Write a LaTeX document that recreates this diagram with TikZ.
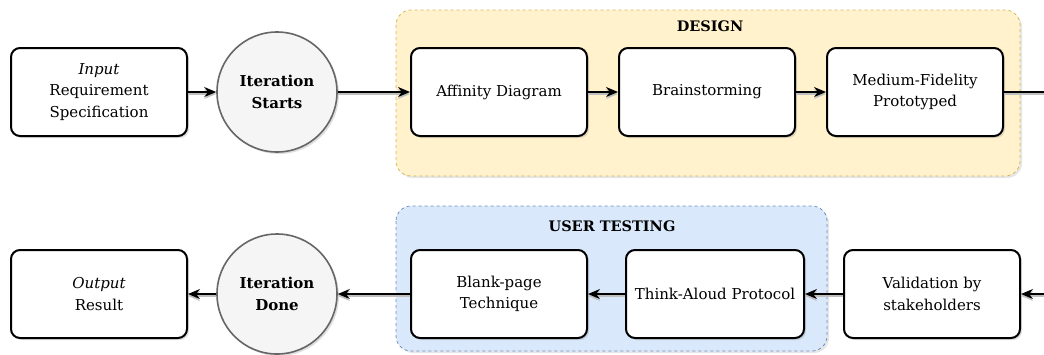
\documentclass[tikz,border=0pt]{standalone}
\usepackage{fontspec}
\setmainfont{DejaVu Serif}
\usetikzlibrary{arrows.meta,shadows}
\definecolor{designfill}{HTML}{FFF2CC}
\definecolor{designline}{HTML}{D6B656}
\definecolor{testfill}{HTML}{DAE8FC}
\definecolor{testline}{HTML}{6C8EBF}
\definecolor{circfill}{HTML}{F5F5F5}
\definecolor{circline}{HTML}{666666}
\tikzset{
  txt/.style={font=\fontsize{15}{21.5}\selectfont, align=center},
  stepbox/.style={txt, draw=black, fill=white, line width=2pt, rounded corners=9pt,
    minimum width=176pt, minimum height=88pt, inner xsep=2pt,
    drop shadow={opacity=0.25, shadow xshift=2pt, shadow yshift=-2pt}},
  milestone/.style={circle, align=center, draw=circline, fill=circfill, line width=1.6pt,
    minimum size=120pt, inner sep=0pt, font=\fontsize{15}{22}\selectfont\bfseries,
    drop shadow={opacity=0.25, shadow xshift=2pt, shadow yshift=-2pt}},
  phase/.style={dashed, line width=0.8pt, rounded corners=15pt,
    drop shadow={opacity=0.2, shadow xshift=2pt, shadow yshift=-2pt}},
  phasetitle/.style={font=\fontsize{14.5}{16}\selectfont\bfseries},
  flow/.style={line width=1.4pt, -{Stealth[length=12pt,width=10pt]},
    preaction={draw=black!25, line width=1.4pt, transform canvas={yshift=-2pt}}},
  flowplain/.style={line width=1.4pt,
    preaction={draw=black!25, line width=1.4pt, transform canvas={yshift=-2pt}}},
}
\begin{document}
\begin{tikzpicture}[x=1pt,y=-1pt]
\useasboundingbox (0,0) rectangle (1044,354);

% phase containers
\path[phase, draw=designline, fill=designfill] (396,10) rectangle (1020,176);
\node[phasetitle] (designtitle) at (710,26) {DESIGN};
\path[phase, draw=testline, fill=testfill] (396,206) rectangle (827,351);
\node[phasetitle] (testtitle) at (612,226) {USER TESTING};

% upper row
\node[stepbox] (input) at (99,92) {\textit{Input}\\Requirement\\Specification};
\node[milestone] (start) at (277,92) {Iteration\\Starts};
\node[stepbox] (affinity) at (499,92) {Affinity Diagram};
\node[stepbox] (brain) at (707,92) {Brainstorming};
\node[stepbox] (proto) at (915,92) {Medium-Fidelity\\Prototyped};
\coordinate (outtop) at (1044,92);

% lower row
\node[stepbox] (output) at (99,294) {\textit{Output}\\Result};
\node[milestone] (done) at (277,294) {Iteration\\Done};
\node[stepbox] (blank) at (499,294) {Blank-page\\Technique};
\node[stepbox, minimum width=178pt] (think) at (715,294) {Think-Aloud Protocol};
\node[stepbox] (valid) at (932,294) {Validation by\\stakeholders};
\coordinate (inbottom) at (1044,294);

% connectors
\draw[flow] (input) -- (start);
\draw[flow] (start) -- (affinity);
\draw[flow] (affinity) -- (brain);
\draw[flow] (brain) -- (proto);
\draw[flowplain] (proto.east) -- (outtop);

\draw[flow] (inbottom) -- (valid.east);
\draw[flow] (valid) -- (think);
\draw[flow] (think) -- (blank);
\draw[flow] (blank) -- (done);
\draw[flow] (done) -- (output);
\end{tikzpicture}
\end{document}
